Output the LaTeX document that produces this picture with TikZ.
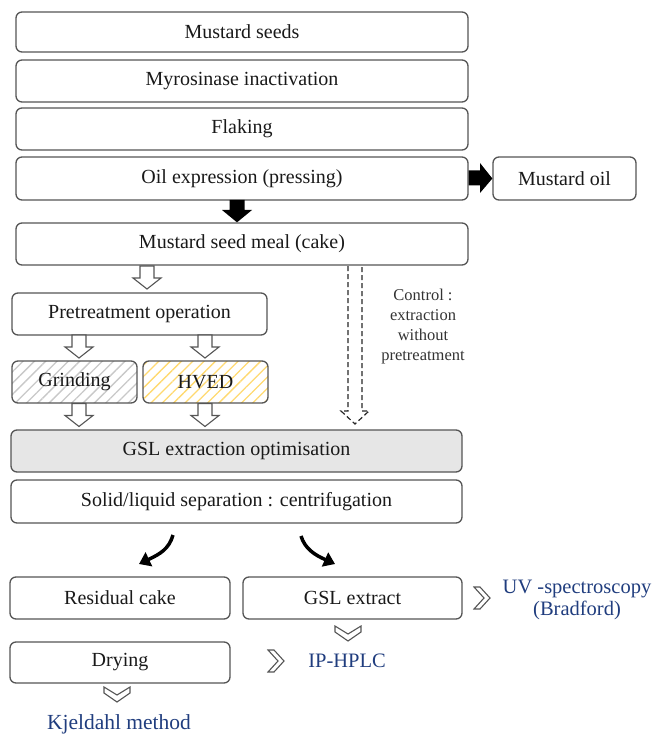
\documentclass[tikz,border=0pt]{standalone}
\usepackage{fontspec}
\setmainfont{Liberation Serif}
\usetikzlibrary{arrows.meta,patterns.meta,calc}
\definecolor{edge}{HTML}{555555}
\definecolor{navy}{HTML}{203D7E}
\definecolor{hatchy}{HTML}{FFD970}
\definecolor{hatchg}{HTML}{C8C8C8}
\definecolor{gslgray}{HTML}{E6E6E6}
\begin{document}
\begin{tikzpicture}[x=1pt,y=-1pt,
  box/.style={draw=edge, line width=1.3pt, rounded corners=6pt, inner sep=0pt,
    font=\fontsize{20}{24}\selectfont, text=black!90},
  bluetext/.style={text=navy, font=\fontsize{20.5}{22}\selectfont, align=center, inner sep=0pt},
  hollow/.style={draw=edge, line width=1.1pt, fill=white},
  blackfill/.style={fill=black},
  hollowdown/.pic={\draw[hollow] (-7,0) -- (-7,12) -- (-14,12) -- (0,23) -- (14,12) -- (7,12) -- (7,0) -- cycle;},
  chevright/.pic={\draw[hollow, line join=miter] (0,-11) -- (6,-11) -- (16,0) -- (6,11) -- (0,11) -- (10,0) -- cycle;},
  chevdown/.pic={\draw[hollow, line join=miter] (-13,0) -- (0,8) -- (13,0) -- (13,6) -- (0,15) -- (-13,6) -- cycle;},
  curvearrow/.style={line width=3.5pt, -{Triangle[length=11pt,width=15pt]}}
]
\useasboundingbox (0,0) rectangle (657,735);

% top chain
\node[box, minimum width=452pt, minimum height=40pt] (seeds) at (242,32) {Mustard seeds};
\node[box, minimum width=452pt, minimum height=42pt] (myro) at (242,81) {Myrosinase inactivation};
\node[box, minimum width=452pt, minimum height=42pt] (flak) at (242,129) {Flaking};
\node[box, minimum width=452pt, minimum height=43pt] (oil) at (242,178.5) {Oil expression (pressing)};
\node[box, minimum width=143pt, minimum height=43pt] (moil) at (564.5,178.5) {Mustard oil};
\node[box, minimum width=452pt, minimum height=42pt] (meal) at (242,244) {Mustard seed meal (cake)};

% black block arrows
\fill[blackfill] (oil.east |- 0,170.5) -- (480,170.5) -- (480,163) -- (moil.west) -- (480,193) -- (480,185.5) -- (oil.east |- 0,185.5) -- cycle;
\fill[blackfill] (229.5,200) -- (229.5,210) -- (222,210) -- (meal.north -| 237,0) -- (252,210) -- (244.5,210) -- (244.5,200) -- cycle;

% pretreatment
\pic at (147,266) {hollowdown};
\node[box, minimum width=255pt, minimum height=42pt] (pre) at (139.5,314) {Pretreatment operation};
\pic at (79,335) {hollowdown};
\pic at (205,335) {hollowdown};
\node[box, minimum width=125pt, minimum height=42pt,
  pattern={Lines[angle=45,distance=8pt,line width=1.3pt]}, pattern color=hatchg] (grind) at (74.5,382) {Grinding};
\node[box, minimum width=125pt, minimum height=42pt,
  pattern={Lines[angle=45,distance=8pt,line width=1.3pt]}, pattern color=hatchy] (hved) at (205.5,382) {HVED};
\pic at (79,403.5) {hollowdown};
\pic at (205,403.5) {hollowdown};

% control dashed arrow
\draw[draw=black!85, line width=1.2pt, dash pattern=on 5pt off 3pt]
  (348,266) -- (348,411) -- (341,411) -- (355,424) -- (369,411) -- (362,411) -- (362,266);
\node[align=center, inner sep=0pt, font=\fontsize{16.5}{20}\selectfont, text=black!80] (ctrl) at (423,327)
  {Control :\\extraction\\without\\pretreatment};

% extraction
\node[box, fill=gslgray, minimum width=451pt, minimum height=42pt] (gsl) at (236.5,451) {GSL extraction optimisation};
\node[box, minimum width=451pt, minimum height=43pt] (sep) at (236.5,501.5) {Solid/liquid separation : centrifugation};

% outputs
\node[box, minimum width=220pt, minimum height=42pt] (res) at (120,598) {Residual cake};
\node[box, minimum width=219pt, minimum height=42pt] (ext) at (352.5,598) {GSL extract};
\node[box, minimum width=220pt, minimum height=41pt] (dry) at (120,662.5) {Drying};

\draw[curvearrow] (173,535) .. controls (169,549) and (160,554) .. (139,564);
\draw[curvearrow] (301,536) .. controls (305,549) and (315,555) .. (335,564);

% analyses
\pic at (474,598) {chevright};
\node[bluetext] (uv) at (577,600) {UV -spectroscopy\\(Bradford)};
\pic at (348,626) {chevdown};
\pic at (268,661) {chevright};
\node[bluetext] (hplc) at (347,661) {IP-HPLC};
\pic at (117,687) {chevdown};
\node[bluetext, font=\fontsize{21.5}{24}\selectfont] (kjel) at (119,724) {Kjeldahl method};
\end{tikzpicture}
\end{document}
